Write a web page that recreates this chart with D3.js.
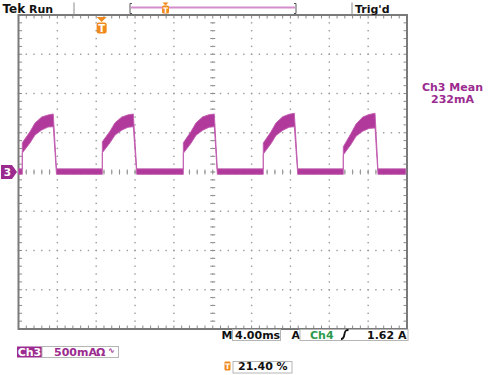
<!DOCTYPE html>
<html><head><meta charset="utf-8">
<script src="https://cdn.jsdelivr.net/npm/d3@7"></script>
<style>
html,body{margin:0;padding:0;background:#fff;}
svg{display:block;font-family:"DejaVu Sans",sans-serif;}
</style></head><body>
<svg id="c" width="488" height="375"></svg>
<script>
// ---- data (time in ms from left of screen, current in A) ----
const timeMs = [0,
  0.39,0.39,1.18,1.70,2.39,3.04,3.58,3.91,
  8.63,8.63,9.42,9.94,10.63,11.28,11.82,12.17,
  16.97,16.97,17.76,18.28,18.97,19.62,20.16,20.47,
  25.20,25.20,25.99,26.51,27.20,27.85,28.40,28.75,
  33.44,33.44,34.23,34.75,35.44,36.09,36.71,37.01,
  39.87];
const upperA = [0.04,
  0.04,0.373,0.513,0.624,0.701,0.726,0.739,0.04,
  0.04,0.386,0.520,0.628,0.700,0.728,0.739,0.04,
  0.04,0.373,0.515,0.626,0.703,0.730,0.739,0.04,
  0.04,0.369,0.512,0.625,0.705,0.735,0.748,0.04,
  0.04,0.322,0.490,0.610,0.700,0.733,0.748,0.04,
  0.04];
const lowerA = [-0.03,
  -0.03,0.242,0.369,0.471,0.535,0.573,0.577,-0.03,
  -0.03,0.245,0.372,0.470,0.533,0.570,0.577,-0.03,
  -0.03,0.238,0.366,0.468,0.532,0.570,0.577,-0.03,
  -0.03,0.229,0.360,0.465,0.530,0.570,0.577,-0.03,
  -0.03,0.217,0.350,0.455,0.520,0.555,0.561,-0.03,
  -0.03];
const timePerDiv = 4;      // ms/div
const ampsPerDiv = 0.5;    // A/div
const xDivs = 10, yDivs = 8, minorPerDiv = 5;
const triggerPct = 21.40;
const meanLabel = ["Ch3 Mean", "232mA"];
const statusLeft = ["Tek", "Run"], statusRight = "Trig'd";
const timebaseLabel = "4.00ms", trigSource = "Ch4", trigLevel = "1.62 A";
const chLabel = "Ch3", chScale = "500mA";

// ---- layout ----
const svg = d3.select("#c");
const L = 18.5, R = 407, T = 15, B = 329;
const x = d3.scaleLinear().domain([0, xDivs*timePerDiv]).range([L, R]);
const y = d3.scaleLinear().domain([-yDivs/2*ampsPerDiv, yDivs/2*ampsPerDiv]).range([B, T]);
const purple = "#9b2b8f", trace = "#b0399b", orange = "#f08a1c", grid = "#8a8a8a";
const F = "DejaVu Sans";

// graticule dots
const g = svg.append("g");
const minorX = d3.range(0, xDivs*timePerDiv + 1e-9, timePerDiv/minorPerDiv);
const minorY = d3.range(-yDivs/2*ampsPerDiv, yDivs/2*ampsPerDiv + 1e-9, ampsPerDiv/minorPerDiv);
const majorX = d3.range(1, xDivs).map(i => i*timePerDiv).filter(v => v !== xDivs/2*timePerDiv);
const majorY = d3.range(1, yDivs).map(i => -yDivs/2*ampsPerDiv + i*ampsPerDiv).filter(v => Math.abs(v) > 1e-9);
majorX.forEach(mx => minorY.forEach(my => {
  g.append("rect").attr("x", x(mx)-0.7).attr("y", y(my)-0.7).attr("width",1.4).attr("height",1.4).attr("fill","#9a9a9a");
}));
majorY.forEach(my => minorX.forEach(mx => {
  g.append("rect").attr("x", x(mx)-0.7).attr("y", y(my)-0.7).attr("width",1.4).attr("height",1.4).attr("fill","#9a9a9a");
}));
// center crosshair with ticks
const cx = x(xDivs/2*timePerDiv), cy = y(0);
minorX.forEach(mx => g.append("line").attr("x1",x(mx)).attr("x2",x(mx)).attr("y1",cy-2.5).attr("y2",cy+2.5).attr("stroke",grid).attr("stroke-width",1));
minorY.forEach(my => g.append("line").attr("x1",cx-2.5).attr("x2",cx+2.5).attr("y1",y(my)).attr("y2",y(my)).attr("stroke",grid).attr("stroke-width",1));
minorX.forEach(mx => g.append("rect").attr("x", x(mx)-0.7).attr("y", cy-0.7).attr("width",1.4).attr("height",1.4).attr("fill","#9a9a9a"));
minorY.forEach(my => g.append("rect").attr("x", cx-0.7).attr("y", y(my)-0.7).attr("width",1.4).attr("height",1.4).attr("fill","#9a9a9a"));
// border ticks
minorX.forEach(mx => {
  g.append("line").attr("x1",x(mx)).attr("x2",x(mx)).attr("y1",T).attr("y2",T+3.5).attr("stroke",grid);
  g.append("line").attr("x1",x(mx)).attr("x2",x(mx)).attr("y1",B).attr("y2",B-3.5).attr("stroke",grid);
});
minorY.forEach(my => {
  g.append("line").attr("x1",L).attr("x2",L+3.5).attr("y1",y(my)).attr("y2",y(my)).attr("stroke",grid);
  g.append("line").attr("x1",R).attr("x2",R-3.5).attr("y1",y(my)).attr("y2",y(my)).attr("stroke",grid);
});
g.append("rect").attr("x",L).attr("y",T).attr("width",R-L).attr("height",B-T)
  .attr("fill","none").attr("stroke","#7a7a7a").attr("stroke-width",2);

// trace
const pts = timeMs.map((t,i) => ({t, hi: upperA[i], lo: lowerA[i]}));
const area = d3.area().x(d => x(d.t)).y0(d => y(d.lo)).y1(d => y(d.hi));
svg.append("path").datum(pts).attr("d", area)
  .attr("fill", trace).attr("stroke", "#c25cb0").attr("stroke-width", 0.9).attr("stroke-linejoin","round");

// ground marker "3"
svg.append("path").attr("d", `M1,${cy-7} L12,${cy-7} L17,${cy} L12,${cy+7} L1,${cy+7} Z`).attr("fill", purple);
svg.append("text").attr("x",7.5).attr("y",cy+4).attr("text-anchor","middle").attr("fill","#fff")
  .attr("font-family",F).attr("font-weight","bold").attr("font-size",10.5).text("3");

// trigger marker on graticule
const tx = x(triggerPct/100 * xDivs*timePerDiv);
svg.append("path").attr("d", `M${tx-5},17 L${tx+5},17 L${tx},22 Z`).attr("fill", orange);
svg.append("rect").attr("x",tx-5).attr("y",22.5).attr("width",10).attr("height",11).attr("rx",2).attr("fill",orange);
svg.append("text").attr("x",tx).attr("y",32).attr("text-anchor","middle").attr("fill","#fff")
  .attr("font-family",F).attr("font-weight","bold").attr("font-size",10).text("T");

// top status bar
svg.append("text").attr("x",2.5).attr("y",12.5).attr("font-family",F).attr("font-weight","bold").attr("font-size",12).attr("fill","#111").text(statusLeft[0]);
svg.append("text").attr("x",29).attr("y",12.5).attr("font-family",F).attr("font-weight","bold").attr("font-size",11).attr("fill","#111").text(statusLeft[1]);
svg.append("line").attr("x1",74).attr("x2",74).attr("y1",2.5).attr("y2",T).attr("stroke","#8a8a8a").attr("stroke-width",1);
svg.append("line").attr("x1",352).attr("x2",352).attr("y1",2.5).attr("y2",T).attr("stroke","#8a8a8a").attr("stroke-width",1);
svg.append("text").attr("x",355).attr("y",12.5).attr("font-family",F).attr("font-weight","bold").attr("font-size",11).attr("fill","#111").text(statusRight);
// record view bracket
const bl = 130, br = 296;
svg.append("line").attr("x1",bl+1).attr("x2",br-1).attr("y1",7.5).attr("y2",7.5).attr("stroke","#d58ccb").attr("stroke-width",2);
svg.append("path").attr("d",`M${bl+2},3.5 L${bl},3.5 L${bl},13.5 L${bl+2},13.5`).attr("fill","none").attr("stroke","#555").attr("stroke-width",1);
svg.append("path").attr("d",`M${br-2},3.5 L${br},3.5 L${br},13.5 L${br-2},13.5`).attr("fill","none").attr("stroke","#555").attr("stroke-width",1);
const rx = bl + (br-bl)*triggerPct/100;
svg.append("path").attr("d", `M${rx-3},2.5 L${rx+3},2.5 L${rx},5.5 Z`).attr("fill", orange);
svg.append("rect").attr("x",rx-3.5).attr("y",5.5).attr("width",7).attr("height",8).attr("rx",1.5).attr("fill",orange);
svg.append("text").attr("x",rx).attr("y",12.5).attr("text-anchor","middle").attr("fill","#fff")
  .attr("font-family",F).attr("font-weight","bold").attr("font-size",7.5).text("T");

// mean readout
svg.append("text").attr("x",452.5).attr("y",90.5).attr("text-anchor","middle").attr("font-family",F).attr("font-weight","bold").attr("font-size",11).attr("fill",purple).text(meanLabel[0]);
svg.append("text").attr("x",452.5).attr("y",102.5).attr("text-anchor","middle").attr("font-family",F).attr("font-weight","bold").attr("font-size",11).attr("fill",purple).text(meanLabel[1]);

// bottom readouts
const box = (x0,y0,w,h) => svg.append("rect").attr("x",x0+0.5).attr("y",y0+0.5).attr("width",w).attr("height",h).attr("fill","#fff").attr("stroke","#b5b5b5").attr("stroke-width",1);
const txt = (x0,y0,s,c,anchor) => svg.append("text").attr("x",x0).attr("y",y0).attr("text-anchor",anchor||"start").attr("font-family",F).attr("font-weight","bold").attr("font-size",11).attr("fill",c).text(s);
box(232,329,48,11);
txt(221.5,339,"M","#111");
txt(235,339,timebaseLabel,"#111");
txt(291.5,339,"A","#111");
box(299.5,329,108,11);
txt(310,339,trigSource,"#2e9a4c");
svg.append("path").attr("d","M341,339 C343,339 344,337.5 344.5,334 C345,330.5 346,330 348.5,330").attr("fill","none").attr("stroke","#111").attr("stroke-width",1.8);
txt(406.5,339,trigLevel,"#111","end");

svg.append("rect").attr("x",17).attr("y",346.5).attr("width",25).attr("height",11).attr("fill",purple);
txt(29.5,356,chLabel,"#fff","middle");
box(41.5,346,76.5,11);
txt(54,356,chScale,purple);
txt(96,356,"Ω",purple);
svg.append("text").attr("x",108).attr("y",353).attr("font-family",F).attr("font-weight","bold").attr("font-size",8).attr("fill",purple).text("∿");

svg.append("rect").attr("x",224.5).attr("y",361.5).attr("width",6).attr("height",9).attr("rx",1).attr("fill",orange);
svg.append("text").attr("x",227.5).attr("y",369).attr("text-anchor","middle").attr("font-family",F).attr("font-weight","bold").attr("font-size",7.5).attr("fill","#fff").text("T");
box(232.5,361,59,11.5);
txt(238,370,triggerPct.toFixed(2)+" %","#111");
</script>
</body></html>
